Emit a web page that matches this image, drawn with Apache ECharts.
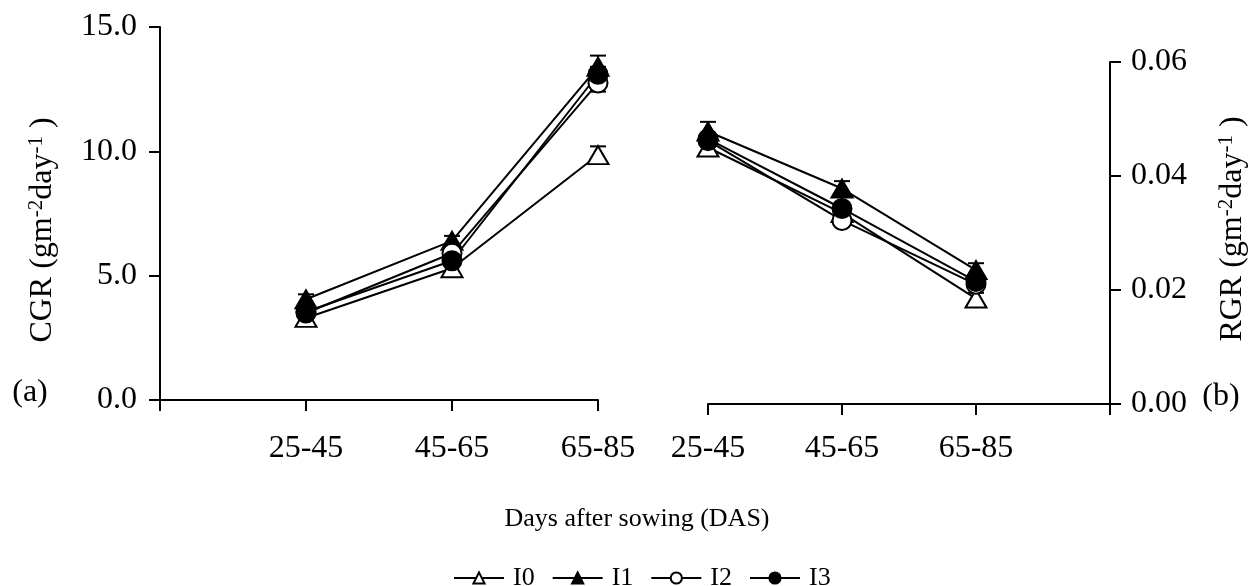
<!DOCTYPE html>
<html>
<head>
<meta charset="utf-8">
<script src="https://cdn.jsdelivr.net/npm/echarts@6/dist/echarts.min.js"></script>
<style>html,body{margin:0;padding:0;background:#fff;}#c{width:1253px;height:586px;}</style>
</head>
<body>
<div id="c"></div>
<script>
// ---- data ----
var categories = ['25-45', '45-65', '65-85'];
var seriesNames = ['I0', 'I1', 'I2', 'I3'];
// CGR (panel a)
var cgrI0 = [3.3, 5.3, 9.85];
var cgrI1 = [4.05, 6.4, 13.4];
var cgrI2 = [3.5, 5.9, 12.75];
var cgrI3 = [3.55, 5.6, 13.1];
var cgrErrI0 = [0.15, 0.2, 0.35];
var cgrErrI1 = [0.2, 0.2, 0.45];
var cgrErrI2 = [0.15, 0.2, 0.35];
var cgrErrI3 = [0.15, 0.2, 0.3];
// RGR (panel b)
var rgrI0 = [0.0450, 0.0335, 0.0185];
var rgrI1 = [0.0478, 0.0378, 0.0235];
var rgrI2 = [0.0462, 0.0322, 0.0210];
var rgrI3 = [0.0465, 0.0343, 0.0215];
var rgrErrI0 = [0.001, 0.001, 0.001];
var rgrErrI1 = [0.0017, 0.0013, 0.0012];
var rgrErrI2 = [0.001, 0.001, 0.001];
var rgrErrI3 = [0.001, 0.001, 0.001];
var cgrTicks = [0, 5, 10, 15];
var rgrTicks = [0, 0.02, 0.04, 0.06];

var FONT = '"Liberation Serif", "Times New Roman", serif';
var cgr = [cgrI0, cgrI1, cgrI2, cgrI3];
var cgrErr = [cgrErrI0, cgrErrI1, cgrErrI2, cgrErrI3];
var rgr = [rgrI0, rgrI1, rgrI2, rgrI3];
var rgrErr = [rgrErrI0, rgrErrI1, rgrErrI2, rgrErrI3];
var symbols = ['triangle', 'triangle', 'circle', 'circle'];
var fills = ['#fff', '#000', '#fff', '#000'];
var sizes = [[21, 18], [21, 18], 19, 19];

function errSeries(vals, errs, offset, axisIdx) {
  return {
    type: 'custom', xAxisIndex: axisIdx, yAxisIndex: axisIdx, z: 1, silent: true,
    data: vals.map(function (v, i) { return [i + offset, v, errs[i]]; }),
    renderItem: function (params, api) {
      var x = api.value(0), y = api.value(1), e = api.value(2);
      var top = api.coord([x, y + e]);
      var bot = api.coord([x, y - e]);
      var w = 8;
      var st = { stroke: '#000', lineWidth: 2 };
      return { type: 'group', children: [
        { type: 'line', shape: { x1: top[0], y1: top[1], x2: bot[0], y2: bot[1] }, style: st },
        { type: 'line', shape: { x1: top[0] - w, y1: top[1], x2: top[0] + w, y2: top[1] }, style: st },
        { type: 'line', shape: { x1: bot[0] - w, y1: bot[1], x2: bot[0] + w, y2: bot[1] }, style: st }
      ] };
    }
  };
}
function lineSeries(name, vals, offset, axisIdx, k) {
  return {
    name: name, type: 'line', xAxisIndex: axisIdx, yAxisIndex: axisIdx, z: 2,
    data: vals.map(function (v, i) { return [i + offset, v]; }),
    symbol: symbols[k], symbolSize: sizes[k], showAllSymbol: true,
    lineStyle: { color: '#000', width: 2 },
    itemStyle: { color: fills[k], borderColor: '#000', borderWidth: 2 },
    animation: false
  };
}

var series = [];
for (var k = 0; k < 4; k++) {
  series.push(errSeries(cgr[k], cgrErr[k], 1, 0));
  series.push(errSeries(rgr[k], rgrErr[k], 0, 1));
}
for (var k = 0; k < 4; k++) {
  series.push(lineSeries(seriesNames[k], cgr[k], 1, 0, k));
}
for (var k = 0; k < 4; k++) {
  series.push(lineSeries(seriesNames[k], rgr[k], 0, 1, k));
}

function axLine() { return { show: true, onZero: false, lineStyle: { color: '#000', width: 2 } }; }
var axisTick = { show: true, length: 11, lineStyle: { color: '#000', width: 2 } };
var tickFont = { color: '#000', fontSize: 32, fontFamily: FONT };
var nameRich = {
  a: { fontSize: 32, fontFamily: FONT, fill: '#000', lineHeight: 34 },
  s: { fontSize: 21, fontFamily: FONT, fill: '#000', verticalAlign: 'top', lineHeight: 34, padding: [0, 0, 14, 0] }
};

var option = {
  animation: false,
  backgroundColor: '#fff',
  grid: [
    { left: 160, top: 27, width: 438, height: 373 },
    { left: 708, top: 62, width: 402, height: 342 }
  ],
  xAxis: [
    { type: 'value', gridIndex: 0, min: 0, max: 3, interval: 1, position: 'bottom',
      axisLine: axLine(), axisTick: axisTick, splitLine: { show: false },
      axisLabel: Object.assign({ margin: 33, formatter: function (v) { return ['', categories[0], categories[1], categories[2]][v] || ''; } }, tickFont) },
    { type: 'value', gridIndex: 1, min: 0, max: 3, interval: 1, position: 'bottom',
      axisLine: axLine(), axisTick: axisTick, splitLine: { show: false },
      axisLabel: Object.assign({ margin: 29, formatter: function (v) { return [categories[0], categories[1], categories[2], ''][v] || ''; } }, tickFont) }
  ],
  yAxis: [
    { type: 'value', gridIndex: 0, position: 'left', min: cgrTicks[0], max: cgrTicks[3], interval: cgrTicks[1] - cgrTicks[0],
      axisLine: axLine(), axisTick: axisTick, splitLine: { show: false },
      axisLabel: Object.assign({ margin: 23, formatter: function (v) { return v.toFixed(1); } }, tickFont) },
    { type: 'value', gridIndex: 1, position: 'right', min: rgrTicks[0], max: rgrTicks[3], interval: rgrTicks[1] - rgrTicks[0],
      axisLine: axLine(), axisTick: axisTick, splitLine: { show: false },
      axisLabel: Object.assign({ margin: 21, formatter: function (v) { return v.toFixed(2); } }, tickFont) }
  ],
  legend: {
    data: seriesNames, left: 448, top: 560, itemWidth: 50, itemHeight: 14, itemGap: 17,
    textStyle: { color: '#000', fontSize: 26, fontFamily: FONT, padding: [0, 0, 0, 4] }
  },
  graphic: [
    { type: 'text', x: 43, y: 230, rotation: Math.PI / 2,
      style: { text: '{a|CGR (gm}{s|-2}{a|day}{s|-1}{a| )}', align: 'center', verticalAlign: 'middle', rich: nameRich } },
    { type: 'text', x: 1233, y: 229, rotation: Math.PI / 2,
      style: { text: '{a|RGR (gm}{s|-2}{a|day}{s|-1}{a| )}', align: 'center', verticalAlign: 'middle', rich: nameRich } },
    { type: 'text', x: 30, y: 393, style: { text: '(a)', font: '32px ' + FONT, fill: '#000', align: 'center', verticalAlign: 'middle' } },
    { type: 'text', x: 1221, y: 397, style: { text: '(b)', font: '32px ' + FONT, fill: '#000', align: 'center', verticalAlign: 'middle' } },
    { type: 'text', x: 637, y: 519, style: { text: 'Days after sowing (DAS)', font: '26px ' + FONT, fill: '#000', align: 'center', verticalAlign: 'middle' } }
  ],
  series: series
};
var chart = echarts.init(document.getElementById('c'), null, { renderer: 'canvas' });
chart.setOption(option);
</script>
</body>
</html>
